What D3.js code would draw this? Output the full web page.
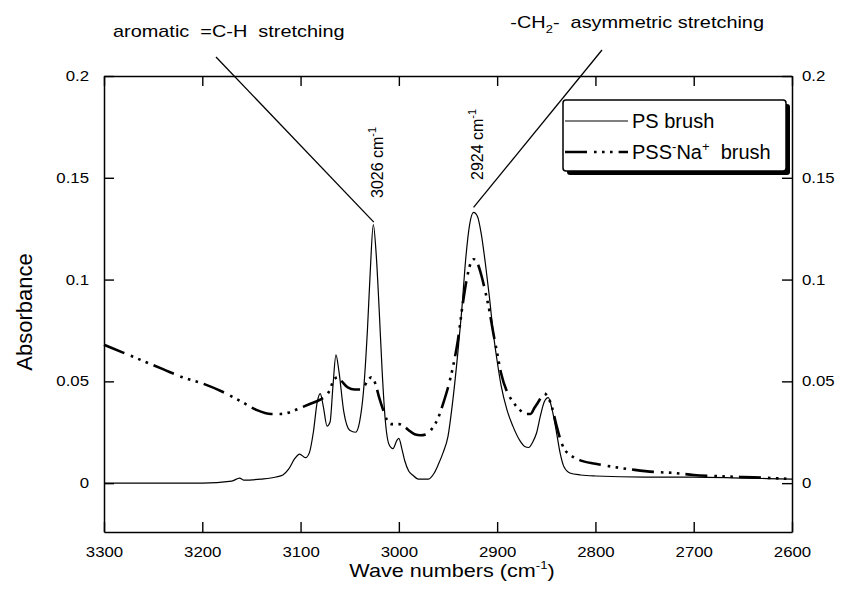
<!DOCTYPE html>
<html>
<head>
<meta charset="utf-8">
<script src="https://cdn.jsdelivr.net/npm/d3@7"></script>
<style>
  html, body { margin: 0; padding: 0; background: #fff; }
  svg { display: block; }
  text { font-family: "Liberation Sans", Arial, Helvetica, sans-serif; fill: #000; }
</style>
</head>
<body>
<svg id="chart" width="843" height="598"></svg>
<script>
// ---- data ----
const xTicks = [3300, 3200, 3100, 3000, 2900, 2800, 2700, 2600];
const yTicks = [0, 0.05, 0.1, 0.15, 0.2];

const psWave = [3300,3250,3200,3170,3162,3158,3140,3125,3118,3112,3106,3101,3095,3091,3087,3083,3080,3077,3073,3070,3067,3064,3061,3056,3050,3044,3040,3036,3032,3029,3026,3023,3020,3017,3014,3010,3006,3002,3000,2997,2994,2990,2986,2980,2970,2964,2960,2955,2950,2945,2940,2936,2932,2928,2924,2920,2916,2912,2908,2904,2900,2896,2890,2884,2877,2872,2868,2864,2860,2856,2852,2848,2844,2840,2836,2832,2826,2815,2800,2750,2700,2650,2600];
const psAbs  = [0.000,0.000,0.000,0.001,0.0025,0.0015,0.002,0.003,0.004,0.007,0.012,0.0143,0.0125,0.015,0.025,0.040,0.044,0.038,0.028,0.030,0.048,0.063,0.055,0.035,0.026,0.025,0.030,0.045,0.075,0.105,0.127,0.112,0.085,0.055,0.032,0.019,0.017,0.021,0.022,0.017,0.011,0.006,0.004,0.002,0.002,0.005,0.009,0.015,0.023,0.041,0.064,0.085,0.110,0.127,0.133,0.131,0.122,0.108,0.092,0.074,0.060,0.048,0.036,0.028,0.021,0.018,0.0175,0.020,0.0245,0.033,0.040,0.042,0.036,0.026,0.015,0.008,0.005,0.004,0.0035,0.003,0.003,0.0025,0.002];

const pssWave = [3300,3280,3260,3240,3220,3200,3180,3160,3145,3130,3120,3110,3100,3090,3080,3074,3070,3066,3062,3058,3052,3045,3038,3032,3028,3024,3020,3016,3012,3008,3000,2995,2990,2984,2978,2972,2966,2960,2955,2950,2945,2940,2935,2931,2927,2924,2920,2916,2912,2908,2904,2900,2896,2890,2884,2877,2870,2866,2862,2858,2852,2848,2844,2840,2836,2832,2826,2816,2800,2782,2760,2740,2720,2700,2680,2650,2620,2600];
const pssAbs  = [0.068,0.064,0.060,0.056,0.052,0.049,0.045,0.040,0.036,0.034,0.034,0.035,0.037,0.039,0.041,0.043,0.046,0.051,0.052,0.050,0.047,0.046,0.046,0.050,0.052,0.049,0.042,0.036,0.031,0.029,0.029,0.028,0.026,0.024,0.0235,0.024,0.027,0.032,0.039,0.047,0.057,0.070,0.088,0.100,0.108,0.110,0.108,0.102,0.094,0.085,0.074,0.064,0.054,0.045,0.040,0.036,0.034,0.034,0.037,0.040,0.044,0.042,0.037,0.029,0.022,0.017,0.014,0.0113,0.0095,0.008,0.0065,0.0055,0.005,0.004,0.0035,0.003,0.0025,0.002];

const seriesNames = ["PS brush", "PSS-Na+ brush"];
const peakWaves = [3026, 2924];
const peakAbs = [0.127, 0.133];

// ---- layout ----
const svg = d3.select("#chart");
const x = d3.scaleLinear().domain([3300, 2600]).range([104, 792]);
const y = d3.scaleLinear().domain([-0.024, 0.2]).range([532, 76]);
const X0 = x.range()[0], X1 = x.range()[1];
const Y0 = y.range()[0], Y1 = y.range()[1];

const fmt = d => d === 0 ? "0" : String(d);
const TICK = 10;

function styleAxis(g, sx, pad) {
  g.select(".domain").attr("stroke", "#000").attr("stroke-width", 1.5);
  g.selectAll(".tick line").attr("stroke", "#000").attr("stroke-width", 1.4);
  g.selectAll(".tick text")
    .attr("font-size", 14)
    .attr("font-family", "Liberation Sans, Arial, sans-serif")
    .attr("fill", "#000")
    .attr("transform", `scale(${sx},1)`);
}

// bottom
const gB = svg.append("g").attr("transform", `translate(0,${Y0})`)
  .call(d3.axisBottom(x).tickValues(xTicks).tickSizeInner(-TICK).tickSizeOuter(0).tickPadding(15).tickFormat(d3.format("d")));
styleAxis(gB, 1.2);
// top
const gT = svg.append("g").attr("transform", `translate(0,${Y1})`)
  .call(d3.axisTop(x).tickValues(xTicks).tickSizeInner(-TICK).tickSizeOuter(0).tickFormat(""));
styleAxis(gT, 1);
// left
const gL = svg.append("g").attr("transform", `translate(${X0},0)`)
  .call(d3.axisLeft(y).tickValues(yTicks).tickSizeInner(-TICK).tickSizeOuter(0).tickPadding(12.5).tickFormat(fmt));
styleAxis(gL, 1.2);
// right
const gR = svg.append("g").attr("transform", `translate(${X1},0)`)
  .call(d3.axisRight(y).tickValues(yTicks).tickSizeInner(-TICK).tickSizeOuter(0).tickPadding(8.3).tickFormat(fmt));
styleAxis(gR, 1.2);

// ---- curves ----
const psData = psWave.map((w, i) => ({w, v: psAbs[i]}));
const pssData = pssWave.map((w, i) => ({w, v: pssAbs[i]}));
const line = d3.line().x(d => x(d.w)).y(d => y(d.v)).curve(d3.curveMonotoneX);

const PSS_DASH = "22,7,2.6,5.4,2.6,5.4,2.6,6";

svg.append("path").datum(pssData)
  .attr("d", line).attr("fill", "none").attr("stroke", "#000")
  .attr("stroke-width", 2.6).attr("stroke-dasharray", PSS_DASH);
svg.append("path").datum(psData)
  .attr("d", line).attr("fill", "none").attr("stroke", "#000")
  .attr("stroke-width", 1.2);

// ---- annotations ----
// leader lines from titles to peaks
const leaders = [
  {x1: 216, y1: 57, w: peakWaves[0] - 0.5, v: peakAbs[0], off: 2.5},
  {x1: 602, y1: 50, w: peakWaves[1], v: peakAbs[1], off: 5}
];
leaders.forEach(l => {
  svg.append("line")
    .attr("x1", l.x1).attr("y1", l.y1)
    .attr("x2", x(l.w)).attr("y2", y(l.v) - l.off)
    .attr("stroke", "#000").attr("stroke-width", 1.3);
});

// title 1
const t1 = svg.append("text")
  .attr("transform", "translate(113,37) scale(1.17,1)")
  .attr("font-size", 17);
t1.text("aromatic  =C-H  stretching").attr("xml:space", "preserve").style("white-space", "pre");

// title 2
const t2 = svg.append("text")
  .attr("transform", "translate(764,28) scale(1.17,1)")
  .attr("font-size", 17).attr("text-anchor", "end")
  .style("white-space", "pre");
t2.append("tspan").text("-CH");
t2.append("tspan").attr("font-size", 11).attr("dy", 5).text("2");
t2.append("tspan").attr("dy", -5).text("-  asymmetric stretching");

// peak labels (rotated)
const peakLabelPos = [{bx: 383, by: 198}, {bx: 483, by: 180}];
peakWaves.forEach((w, i) => {
  const t = svg.append("text")
    .attr("transform", `translate(${peakLabelPos[i].bx},${peakLabelPos[i].by}) rotate(-90)`)
    .attr("font-size", 16).style("white-space", "pre");
  t.append("tspan").text(`${w} cm`);
  t.append("tspan").attr("font-size", 11).attr("dy", -7).text("-1");
});

// axis titles
svg.append("text")
  .attr("transform", "translate(32,312) rotate(-90)")
  .attr("font-size", 22).attr("text-anchor", "middle")
  .text("Absorbance");

const xt = svg.append("text")
  .attr("transform", "translate(452,577) scale(1.2,1)")
  .attr("font-size", 18).attr("text-anchor", "middle");
xt.append("tspan").text("Wave numbers (cm");
xt.append("tspan").attr("font-size", 11).attr("dy", -8).text("-1");
xt.append("tspan").attr("dy", 8).text(")");

// ---- legend ----
const lg = svg.append("g");
const LX = 563, LY = 100, LW = 223, LH = 71, SH = 4;
lg.append("rect").attr("x", LX + SH).attr("y", LY + SH).attr("width", LW).attr("height", LH)
  .attr("rx", 3).attr("fill", "#000");
lg.append("rect").attr("x", LX).attr("y", LY).attr("width", LW).attr("height", LH)
  .attr("rx", 3).attr("fill", "#fff").attr("stroke", "#000").attr("stroke-width", 1.5);

const rowY = [121, 152];
lg.append("line").attr("x1", LX + 2).attr("x2", LX + 65).attr("y1", rowY[0]).attr("y2", rowY[0])
  .attr("stroke", "#000").attr("stroke-width", 1.2);
lg.append("line").attr("x1", LX + 2).attr("x2", LX + 65).attr("y1", rowY[1]).attr("y2", rowY[1])
  .attr("stroke", "#000").attr("stroke-width", 2.6).attr("stroke-dasharray", PSS_DASH);

lg.append("text").attr("x", LX + 69).attr("y", rowY[0] + 7).attr("font-size", 20).text(seriesNames[0]);
const l2 = lg.append("text").attr("x", LX + 69).attr("y", rowY[1] + 7).attr("font-size", 20).style("white-space", "pre");
l2.append("tspan").text("PSS");
l2.append("tspan").attr("font-size", 13).attr("dy", -8).text("-");
l2.append("tspan").attr("dy", 8).text("Na");
l2.append("tspan").attr("font-size", 13).attr("dy", -8).text("+");
l2.append("tspan").attr("dy", 8).text("  brush");
</script>
</body>
</html>
